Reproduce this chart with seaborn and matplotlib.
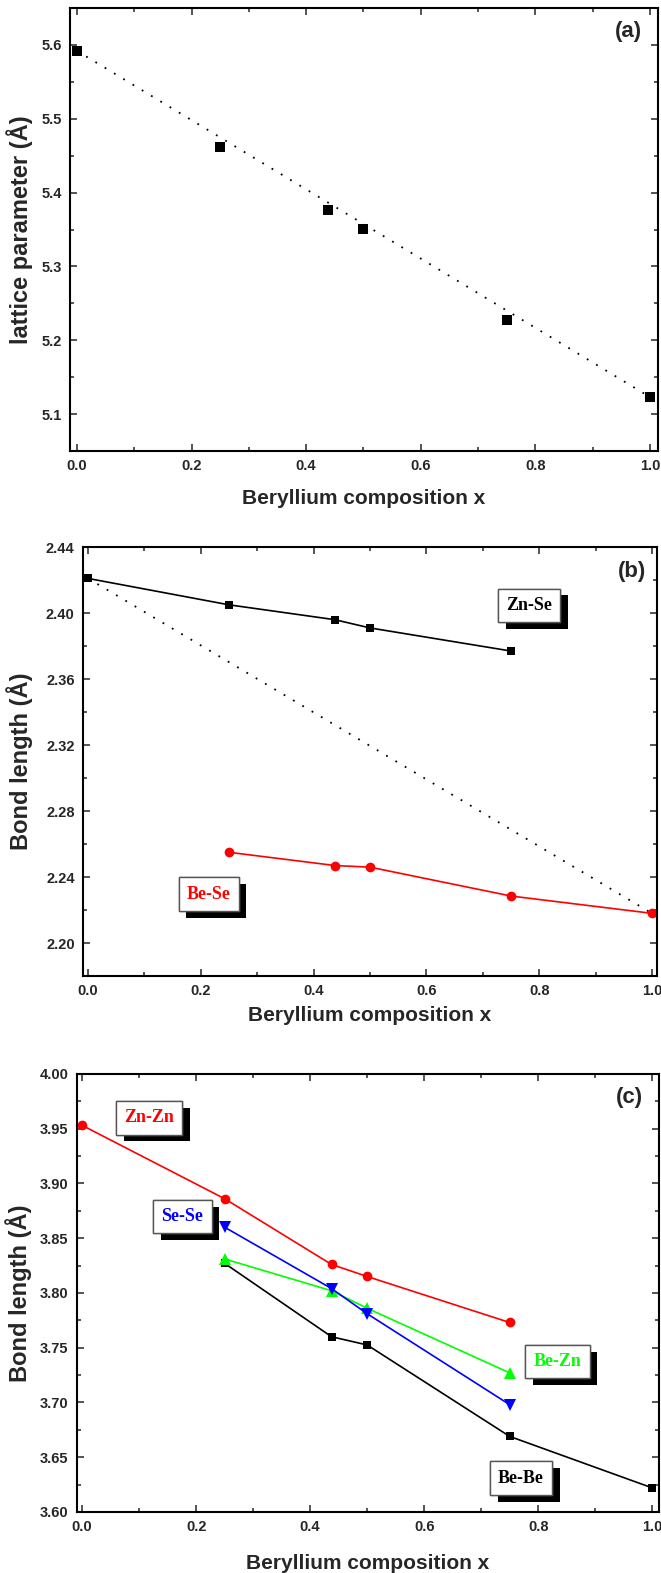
import numpy as np
import pandas as pd
import matplotlib
matplotlib.use("Agg")
import matplotlib.pyplot as plt
import matplotlib.patheffects as pe
from matplotlib.ticker import MultipleLocator, FormatStrFormatter
import seaborn as sns

# (a) lattice parameter vs Be composition
x_a = [0.0, 0.25, 0.4375, 0.5, 0.75, 1.0]
lattice_a = [5.592, 5.462, 5.377, 5.351, 5.228, 5.123]

# (b) nearest-neighbour bond lengths
x_znse = [0.0, 0.25, 0.4375, 0.5, 0.75]
znse = [2.421, 2.405, 2.396, 2.391, 2.377]
x_bese = [0.25, 0.4375, 0.5, 0.75, 1.0]
bese = [2.255, 2.247, 2.246, 2.2285, 2.218]

# (c) second-neighbour bond lengths
x_znzn = [0.0, 0.25, 0.4375, 0.5, 0.75]
znzn = [3.953, 3.886, 3.826, 3.815, 3.773]
x_sese = [0.25, 0.4375, 0.5, 0.75]
sese = [3.860, 3.804, 3.781, 3.698]
x_bezn = [0.25, 0.4375, 0.5, 0.75]
bezn = [3.831, 3.802, 3.786, 3.727]
x_bebe = [0.25, 0.4375, 0.5, 0.75, 1.0]
bebe = [3.827, 3.760, 3.7525, 3.669, 3.622]

sns.set_style("ticks")
plt.rcParams["font.family"] = ["Liberation Sans", "DejaVu Sans"]
plt.rcParams["font.weight"] = "bold"
plt.rcParams["axes.linewidth"] = 1.5

fig = plt.figure(figsize=(6.61, 15.73), dpi=100)
ax_a = fig.add_axes([0.1059, 0.7133, 0.8896, 0.2816])
ax_b = fig.add_axes([0.1256, 0.3795, 0.8684, 0.2727])
ax_c = fig.add_axes([0.1165, 0.0388, 0.8805, 0.2785])


def style_axis(ax, xlim, ylim, ymaj, ymin, yfmt):
    ax.set_xlim(*xlim)
    ax.set_ylim(*ylim)
    ax.xaxis.set_major_locator(MultipleLocator(0.2))
    ax.xaxis.set_minor_locator(MultipleLocator(0.1))
    ax.yaxis.set_major_locator(MultipleLocator(ymaj))
    ax.yaxis.set_minor_locator(MultipleLocator(ymin))
    ax.xaxis.set_major_formatter(FormatStrFormatter("%.1f"))
    ax.yaxis.set_major_formatter(FormatStrFormatter(yfmt))
    ax.tick_params(which="both", direction="in", top=True, right=True, width=1.1)
    ax.tick_params(which="major", length=5, labelsize=10.5, pad=6)
    ax.tick_params(which="minor", length=3)
    for lab in ax.get_xticklabels() + ax.get_yticklabels():
        lab.set_fontweight("bold")
    ax.set_xlabel("Beryllium composition x", fontsize=15, fontweight="bold")
    for s in ax.spines.values():
        s.set_visible(True)
        s.set_linewidth(1.5)
        s.set_color("black")
    ax.grid(False)


def box_label(ax, x, y, txt, color):
    t = ax.text(x, y, txt, color=color, fontsize=13, fontweight="bold",
                family=["Liberation Serif", "DejaVu Serif"], ha="center", va="center",
                bbox=dict(boxstyle="square,pad=0.45", fc="white", ec="#555555", lw=1.0),
                zorder=5)
    t.get_bbox_patch().set_path_effects([
        pe.withSimplePatchShadow(offset=(5.5, -5), shadow_rgbFace="black", alpha=1.0),
        pe.Normal()])
    return t


# panel (a)
sns.lineplot(x=[x_a[0], x_a[-1]], y=[lattice_a[0], lattice_a[-1]], ax=ax_a,
             color="black", lw=1.3, linestyle=(0, (1, 5)))
sns.scatterplot(x=x_a, y=lattice_a, ax=ax_a, marker="s", color="black",
                s=45, edgecolor="black", linewidth=0, zorder=4)
style_axis(ax_a, (-0.012, 1.014), (5.05, 5.65), 0.1, 0.05, "%.1f")
ax_a.set_ylabel("lattice parameter (Å)", fontsize=17, fontweight="bold")
ax_a.yaxis.set_label_coords(-0.063, 0.5)
ax_a.xaxis.set_label_coords(0.5, -0.085)
ax_a.text(0.973, 0.948, "(a)", transform=ax_a.transAxes, ha="right", va="center",
          fontsize=16, fontweight="bold")

# panel (b)
sns.lineplot(x=[x_znse[0], x_bese[-1]], y=[znse[0], bese[-1]], ax=ax_b,
             color="black", lw=1.3, linestyle=(0, (1, 5)))
sns.lineplot(x=x_znse, y=znse, ax=ax_b, color="black", lw=1.2, marker="s",
             markersize=6, markeredgewidth=0)
sns.lineplot(x=x_bese, y=bese, ax=ax_b, color="#ff0000", lw=1.2, marker="o",
             markersize=7, markeredgewidth=0)
style_axis(ax_b, (-0.009, 1.009), (2.18, 2.44), 0.04, 0.02, "%.2f")
ax_b.set_ylabel("Bond length (Å)", fontsize=17, fontweight="bold")
ax_b.yaxis.set_label_coords(-0.087, 0.5)
ax_b.xaxis.set_label_coords(0.5, -0.07)
ax_b.text(0.981, 0.942, "(b)", transform=ax_b.transAxes, ha="right", va="center",
          fontsize=16, fontweight="bold")
box_label(ax_b, 0.782, 2.4048, "Zn-Se", "black")
box_label(ax_b, 0.214, 2.2297, "Be-Se", "#ff0000")

# panel (c)
sns.lineplot(x=x_bebe, y=bebe, ax=ax_c, color="black", lw=1.2, marker="s",
             markersize=6, markeredgewidth=0)
sns.lineplot(x=x_bezn, y=bezn, ax=ax_c, color="#00ff00", lw=1.2, marker="^",
             markersize=8, markeredgewidth=0)
sns.lineplot(x=x_sese, y=sese, ax=ax_c, color="#0000ff", lw=1.2, marker="v",
             markersize=8, markeredgewidth=0)
sns.lineplot(x=x_znzn, y=znzn, ax=ax_c, color="#ff0000", lw=1.2, marker="o",
             markersize=7, markeredgewidth=0)
style_axis(ax_c, (-0.009, 1.012), (3.60, 4.00), 0.05, 0.025, "%.2f")
ax_c.set_ylabel("Bond length (Å)", fontsize=17, fontweight="bold")
ax_c.yaxis.set_label_coords(-0.077, 0.5)
ax_c.xaxis.set_label_coords(0.5, -0.095)
ax_c.text(0.9725, 0.947, "(c)", transform=ax_c.transAxes, ha="right", va="center",
          fontsize=16, fontweight="bold")
box_label(ax_c, 0.1175, 3.9598, "Zn-Zn", "#ff0000")
box_label(ax_c, 0.176, 3.870, "Se-Se", "#0000ff")
box_label(ax_c, 0.834, 3.7374, "Be-Zn", "#00ff00")
box_label(ax_c, 0.770, 3.631, "Be-Be", "black")

fig.savefig("out.png", dpi=100)
